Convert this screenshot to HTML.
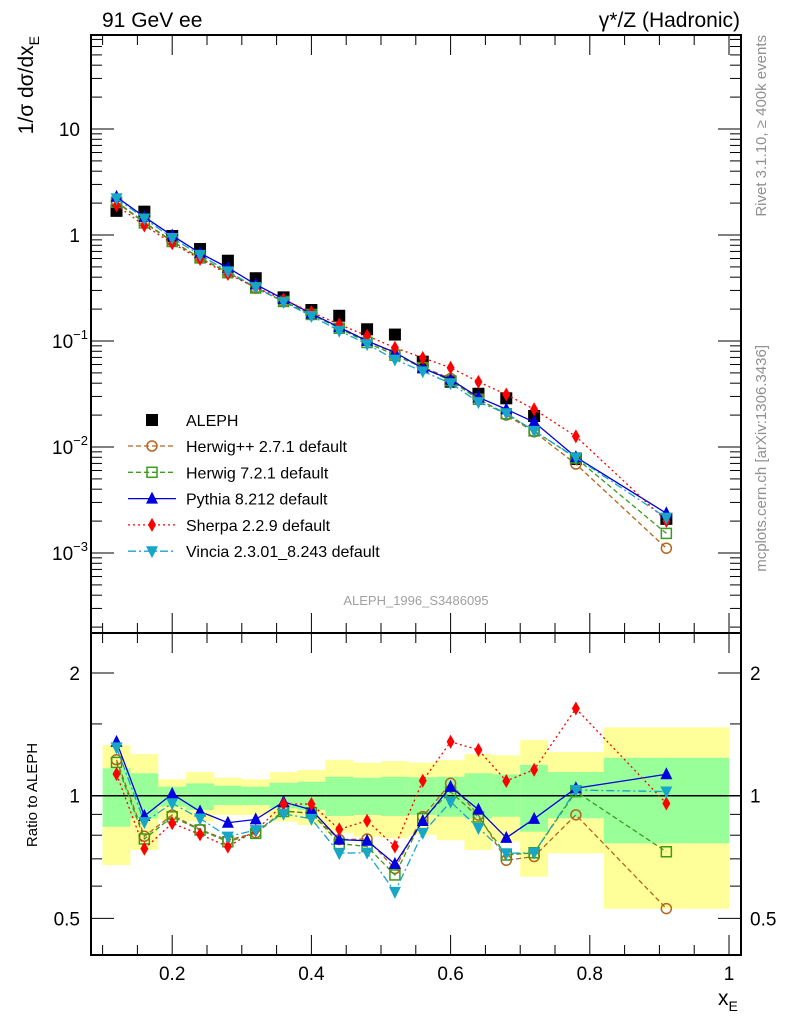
<!DOCTYPE html>
<html><head><meta charset="utf-8"><style>
html,body{margin:0;padding:0;background:#fff}
svg{display:block;font-family:"Liberation Sans",sans-serif}
</style></head><body>
<svg id="c" width="786" height="1024" viewBox="0 0 786 1024"></svg>
<script>
const xCenters=[0.12,0.16,0.20,0.24,0.28,0.32,0.36,0.40,0.44,0.48,0.52,0.56,0.60,0.64,0.68,0.72,0.78,0.91];
const binEdges=[0.10,0.14,0.18,0.22,0.26,0.30,0.34,0.38,0.42,0.46,0.50,0.54,0.58,0.62,0.66,0.70,0.74,0.82,1.00];
const aleph=[1.69,1.66,0.978,0.738,0.572,0.391,0.258,0.196,0.173,0.129,0.115,0.0638,0.0413,0.0318,0.0288,0.0196,0.0077,0.0021];
const herwigpp=[2.07,1.32,0.877,0.610,0.445,0.317,0.237,0.177,0.135,0.101,0.0762,0.0567,0.0443,0.0285,0.0200,0.0139,0.00691,0.00111];
const herwig7=[2.04,1.30,0.868,0.608,0.441,0.316,0.236,0.178,0.132,0.0968,0.0735,0.0561,0.0422,0.0282,0.0206,0.0142,0.00788,0.00153];
const pythia=[2.29,1.48,0.988,0.675,0.491,0.342,0.249,0.181,0.135,0.100,0.0782,0.0553,0.0434,0.0294,0.0227,0.0172,0.00803,0.00237];
const sherpa=[1.91,1.23,0.837,0.593,0.429,0.321,0.246,0.187,0.143,0.112,0.0863,0.0694,0.0560,0.0412,0.0313,0.0227,0.0126,0.00201];
const vincia=[2.22,1.43,0.937,0.649,0.454,0.322,0.233,0.172,0.125,0.0935,0.0668,0.0517,0.0399,0.0265,0.0208,0.0142,0.00795,0.00215];
const yellowHi=[1.331,1.265,1.097,1.143,1.107,1.097,1.143,1.156,1.223,1.205,1.216,1.205,1.223,1.265,1.256,1.370,1.280,1.471];
const yellowLo=[0.676,0.736,0.872,0.864,0.897,0.897,0.864,0.847,0.809,0.793,0.786,0.801,0.778,0.736,0.771,0.633,0.722,0.528];
const greenHi=[1.167,1.135,1.052,1.072,1.058,1.052,1.076,1.082,1.113,1.107,1.113,1.110,1.113,1.135,1.128,1.190,1.143,1.239];
const greenLo=[0.839,0.880,0.940,0.923,0.949,0.949,0.931,0.923,0.892,0.897,0.892,0.897,0.888,0.880,0.888,0.816,0.880,0.764];
const xTicks=[0.2,0.4,0.6,0.8,1.0];
const xTickLabels=["0.2","0.4","0.6","0.8","1"];

const NS="http://www.w3.org/2000/svg";
const svg=document.getElementById('c');
const L=91,R=741,T=35,M=633,B=955;
const X=v=>33+696*v;
const Y=v=>235-106*Math.log10(v);
const RY=v=>795.7-407.6*Math.log10(v);
function mk(tag,attrs,parent){const e=document.createElementNS(NS,tag);for(const k in attrs)e.setAttribute(k,attrs[k]);(parent||svg).appendChild(e);return e;}
function txt(s,attrs,parent){const e=mk('text',attrs,parent);e.textContent=s;return e;}

// ratio bands
const gb=mk('g',{});


for(let i=0;i<xCenters.length;i++){
  const x0=X(binEdges[i]),x1=X(binEdges[i+1]);
  const y=mk('rect',{x:x0,y:RY(yellowHi[i]),width:x1-x0,height:RY(yellowLo[i])-RY(yellowHi[i]),fill:'#ffff99'},gb);
  
  
}
for(let i=0;i<xCenters.length;i++){
  const x0=X(binEdges[i]),x1=X(binEdges[i+1]);
  const g=mk('rect',{x:x0,y:RY(greenHi[i]),width:x1-x0,height:RY(greenLo[i])-RY(greenHi[i]),fill:'#99ff99'},gb);
  
  
}
mk('line',{x1:L,x2:R,y1:RY(1),y2:RY(1),stroke:'#000','stroke-width':1.5});

// frames
const f1=mk('rect',{x:L,y:T,width:R-L,height:M-T,fill:'none',stroke:'#000','stroke-width':2});


const f2=mk('rect',{x:L,y:M,width:R-L,height:B-M,fill:'none',stroke:'#000','stroke-width':2});



// x ticks
for(let v=0.1;v<=1.001;v+=0.05){
  const major=Math.abs(v*10-Math.round(v*10))<1e-6 && Math.round(v*10)%2===0;
  const len=major?20:10;const x=X(v);
  [[B,-1],[M,1],[M,-1],[T,1]].forEach(([y0,d])=>mk('line',{x1:x,x2:x,y1:y0,y2:y0+d*len,stroke:'#000','stroke-width':1}));
}
xTicks.forEach((v,i)=>{
  const t=txt(xTickLabels[i],{x:X(v),y:980,'font-size':19,'text-anchor':'middle'});
  
  
});
// main y ticks
for(let d=-4;d<=1;d++){
  for(let m=1;m<10;m++){
    const v=m*Math.pow(10,d);const y=Y(v);
    if(y<T||y>M)continue;
    const len=m===1?23:11;
    mk('line',{x1:L,x2:L+len,y1:y,y2:y,stroke:'#000'});
    mk('line',{x1:R,x2:R-len,y1:y,y2:y,stroke:'#000'});
  }
}
const yl=[[10,'10',null],[1,'1',null],[0.1,'10','−1'],[0.01,'10','−2'],[0.001,'10','−3']];
yl.forEach(([v,b,e])=>{
  const t=txt('',{x:e?62:80,y:Y(v)+7,'font-size':19,'text-anchor':e?'middle':'end'});
  if(!e){t.setAttribute('x',80);t.textContent=b;}
  else{const s1=document.createElementNS(NS,'tspan');s1.textContent=b;t.appendChild(s1);
    const s2=document.createElementNS(NS,'tspan');s2.setAttribute('dy',-9);s2.setAttribute('font-size',13);s2.textContent=e;t.appendChild(s2);t.setAttribute('x',70);}
  
  
});
// ratio y ticks
[0.5,0.6,0.7,0.8,0.9,1,1.5,2].forEach(v=>{
  const y=RY(v);const len=(v===0.5||v===1||v===2)?23:11;
  mk('line',{x1:L,x2:L+len,y1:y,y2:y,stroke:'#000'});
  mk('line',{x1:R,x2:R-len,y1:y,y2:y,stroke:'#000'});
});
[[2,'2'],[1,'1'],[0.5,'0.5']].forEach(([v,s])=>{
  const a=txt(s,{x:80,y:RY(v)+7,'font-size':19,'text-anchor':'end'});
  
  
  const b=txt(s,{x:750,y:RY(v)+7,'font-size':19,'text-anchor':'start'});
  
  
});

// series
const series=[
 {name:'herwigpp',data:herwigpp,color:'#b5651d',dash:'5,3',marker:'circle',label:'Herwig++ 2.7.1 default'},
 {name:'herwig7',data:herwig7,color:'#3d9a1a',dash:'5,3',marker:'osquare',label:'Herwig 7.2.1 default'},
 {name:'pythia',data:pythia,color:'#0000e0',dash:'',marker:'tri',label:'Pythia 8.212 default'},
 {name:'sherpa',data:sherpa,color:'#ff0000',dash:'2,3',marker:'diamond',label:'Sherpa 2.2.9 default'},
 {name:'vincia',data:vincia,color:'#17a5c8',dash:'8,3,2,3',marker:'dtri',label:'Vincia 2.3.01_8.243 default'}
];
function marker(type,x,y,color,g){
  if(type==='circle')return mk('circle',{cx:x,cy:y,r:5,fill:'none',stroke:color,'stroke-width':1.5},g);
  if(type==='osquare')return mk('rect',{x:x-5,y:y-5,width:10,height:10,fill:'none',stroke:color,'stroke-width':1.5},g);
  if(type==='square')return mk('rect',{x:x-6,y:y-6,width:12,height:12,fill:color},g);
  if(type==='tri')return mk('polygon',{points:`${x},${y-7} ${x-6},${y+5} ${x+6},${y+5}`,fill:color},g);
  if(type==='dtri')return mk('polygon',{points:`${x},${y+7} ${x-6},${y-5} ${x+6},${y-5}`,fill:color},g);
  if(type==='diamond')return mk('polygon',{points:`${x},${y-7} ${x-4},${y} ${x},${y+7} ${x+4},${y}`,fill:color},g);
}
// aleph main
const ga=mk('g',{});


aleph.forEach((v,i)=>{const m=marker('square',X(xCenters[i]),Y(v),'#000',ga);
  
  });
series.forEach(s=>{
  const g=mk('g',{});
  
  
  const pm=s.data.map((v,i)=>X(xCenters[i])+','+Y(v)).join(' ');
  mk('polyline',{points:pm,fill:'none',stroke:s.color,'stroke-width':1.3,'stroke-dasharray':s.dash},g);
  const pr=s.data.map((v,i)=>X(xCenters[i])+','+RY(v/aleph[i])).join(' ');
  mk('polyline',{points:pr,fill:'none',stroke:s.color,'stroke-width':1.3,'stroke-dasharray':s.dash},g);
  s.data.forEach((v,i)=>{
    const m=marker(s.marker,X(xCenters[i]),Y(v),s.color,g);
    
    
    const r=marker(s.marker,X(xCenters[i]),RY(v/aleph[i]),s.color,g);
    
    
  });
});

// legend
const lg=mk('g',{});


const e0=marker('square',152,420,'#000',lg);


txt('ALEPH',{x:186,y:426,'font-size':16},lg);
series.forEach((s,i)=>{
  const y=446+26.3*i;
  mk('line',{x1:128,x2:176,y1:y,y2:y,stroke:s.color,'stroke-width':1.3,'stroke-dasharray':s.dash},lg);
  const m=marker(s.marker,152,y,s.color,lg);
  
  
  txt(s.label,{x:186,y:y+6,'font-size':16},lg);
});

// titles
const t1=txt('91 GeV ee',{x:102,y:27,'font-size':21});


const t2=txt('γ*/Z (Hadronic)',{x:740,y:27,'font-size':21,'text-anchor':'end'});


const t3=txt('ALEPH_1996_S3486095',{x:416,y:605,'font-size':13,fill:'#a0a0a0','text-anchor':'middle'});


const t4=txt('Rivet 3.1.10, ≥ 400k events',{x:0,y:0,'font-size':15,fill:'#909090','text-anchor':'end',transform:'translate(766,35) rotate(-90)'});


const t5=txt('mcplots.cern.ch [arXiv:1306.3436]',{x:0,y:0,'font-size':15,fill:'#909090','text-anchor':'end',transform:'translate(766,345) rotate(-90)'});


const t6=txt('',{x:0,y:0,'font-size':21,'text-anchor':'end',transform:'translate(33,36) rotate(-90)'});
t6.innerHTML='1/σ dσ/dx<tspan font-size="14" dy="6">E</tspan>';


const t7=txt('Ratio to ALEPH',{x:0,y:0,'font-size':15,'text-anchor':'middle',transform:'translate(37,795) rotate(-90)'});


const t8=txt('',{x:718,y:1005,'font-size':21});
t8.innerHTML='x<tspan font-size="14" dy="6">E</tspan>';


</script>
</body></html>
